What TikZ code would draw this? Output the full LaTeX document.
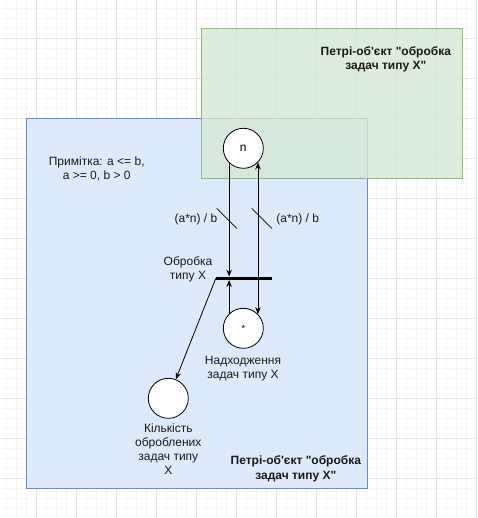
\documentclass[tikz,border=0pt]{standalone}
\usepackage{fontspec}
\setmainfont{Liberation Sans}[Ligatures=TeXOff]
\usetikzlibrary{arrows.meta}
\definecolor{bluefill}{HTML}{DAE8FC}
\definecolor{bluestroke}{HTML}{6C8EBF}
\definecolor{greenfill}{HTML}{D5E8D4}
\definecolor{greenstroke}{HTML}{82B366}
\definecolor{gridminor}{HTML}{F6F6F6}
\definecolor{gridmajor}{HTML}{E6E6E6}
\definecolor{txt}{HTML}{1A1A1A}
\begin{document}
\begin{tikzpicture}[x=1pt,y=-1pt,
  lbl/.style={font=\fontsize{12}{14}\selectfont, text=txt, align=center, inner sep=0pt},
  blbl/.style={lbl, font=\fontsize{12}{14.4}\selectfont\bfseries},
  place/.style={circle, draw=black, fill=white, minimum size=40pt, inner sep=0pt, line width=0.8pt},
  trans/.style={rectangle, fill=black, minimum width=55.7pt, minimum height=3pt, inner sep=0pt},
  arr/.style={draw=black, line width=0.8pt, -{Stealth[length=7pt,width=5.5pt]}},
  slash/.style={draw=black, line width=0.6pt},
  area/.style={rectangle, line width=0.8pt, inner sep=0pt}]
\useasboundingbox (0,0) rectangle (477,518);
\fill[white] (0,0) rectangle (477,518);
% grid
\foreach \i in {0,...,47} {\draw[gridminor, line width=0.5pt] (6.7+10*\i,0) -- (6.7+10*\i,518);}
\foreach \i in {0,...,51} {\draw[gridminor, line width=0.5pt] (0,8.3+10*\i) -- (477,8.3+10*\i);}
\foreach \i in {-1,...,11} {\draw[gridmajor, line width=0.6pt] (36.7+40*\i,0) -- (36.7+40*\i,518);}
\foreach \i in {-1,...,12} {\draw[gridmajor, line width=0.6pt] (0,38.3+40*\i) -- (477,38.3+40*\i);}
% containers
\node[area, draw=bluestroke, fill=bluefill, fill opacity=0.9, minimum width=340.7pt, minimum height=369.4pt, anchor=north west] (blue) at (26,118.3) {};
\node[area, draw=greenstroke, fill=greenfill, fill opacity=0.8, draw opacity=0.85, minimum width=260.7pt, minimum height=150pt, anchor=north west] (green) at (201,28.3) {};
% places and transition
\node[place] (n) at (243.3,148.3) {\fontsize{12}{14}\selectfont n};
\node[place] (in) at (243.3,328.3) {\fontsize{9}{10}\selectfont *};
\node[place] (k) at (168.3,398.3) {};
\node[trans] (T) at (243.85,278.3) {};
% arcs
\draw[arr] (n.-134) -- (n.-134 |- T.north);
\draw[arr] (in.134) -- (in.134 |- T.south);
\draw[arr] (T.north -| n.-44) -- (n.-44);
\draw[arr] (T.south -| in.44) -- (in.44);
\draw[arr] (T.west) -- (k);
% multiplicity slashes
\coordinate (s1a) at (216.7,208.3); \coordinate (s1b) at (236.7,228.3);
\coordinate (s2a) at (251.7,208.3); \coordinate (s2b) at (271.7,228.3);
\draw[slash] (s1a) -- (s1b);
\draw[slash] (s2a) -- (s2b);
% labels
\node[blbl] (t1) at (385.8,59.5) {Петрі-об'єкт "обробка\\задач типу Х"};
\node[blbl] (t2) at (295.8,468.8) {Петрі-об'єкт "обробка\\задач типу Х"};
\node[lbl] (note) at (96.7,169) {Примітка: a <= b,\\a >= 0, b > 0};
\node[lbl] (w1) at (196,219.3) {(a*n) / b};
\node[lbl] (w2) at (297.7,219.3) {(a*n) / b};
\node[lbl] (tl) at (188,269) {Обробка\\типу Х};
\node[lbl] (il) at (243,369) {Надходження\\задач типу Х};
\node[lbl, font=\fontsize{12}{13.9}\selectfont] (kl) at (168.3,449.2) {Кількість\\оброблених\\задач типу\\Х};
\end{tikzpicture}
\end{document}
